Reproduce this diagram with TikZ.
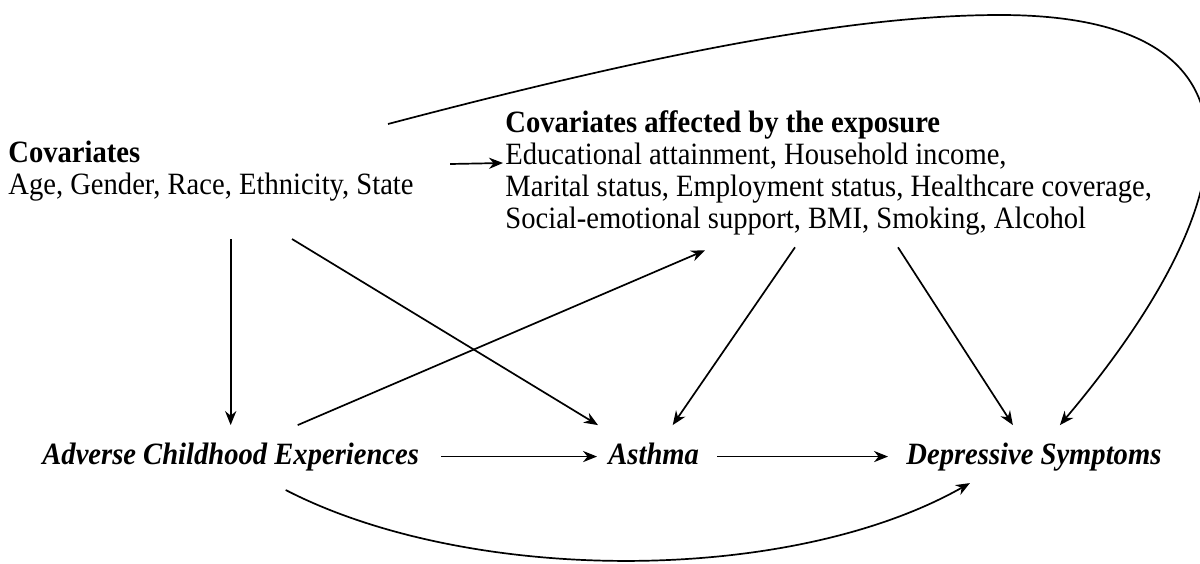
\documentclass[tikz,border=0pt]{standalone}
\usepackage{fontspec}
\setmainfont[FakeStretch=0.9226]{Liberation Serif}
\usetikzlibrary{calc,arrows.meta}

\begin{document}
\begin{tikzpicture}[x=0.5pt,y=-0.5pt,
  font=\fontsize{15.5}{16}\selectfont,
  every node/.style={inner sep=0pt},
  var/.style={font=\fontsize{15.5}{16}\selectfont\bfseries\itshape,anchor=base west},
  grp/.style={align=left,anchor=north west},
  link/.style={-{Stealth[length=7pt,width=5.6pt]},line width=0.85pt}]
\useasboundingbox (0,0) rectangle (1200,563);

\node[grp] (cov) at (8,141) {\textbf{Covariates}\\Age, Gender, Race, Ethnicity, State};
\node[grp] (covexp) at (505,110) {\textbf{Covariates affected by the exposure}\\
  Educational attainment, Household income,\\
  Marital status, Employment status, Healthcare coverage,\\
  Social-emotional support, BMI, Smoking, Alcohol};
\node[var] (ace) at (42,464) {Adverse Childhood Experiences};
\node[var] (asthma) at (608,464) {Asthma};
\node[var] (dep) at (906,464) {Depressive Symptoms};

% arrows out of the covariates
\path[link]
($(cov.north east)+(36,23)$) edge ($(covexp.north west)+(-2,53)$)
(ace.north |- cov.south) edge[shorten <=18.5pt,shorten >=8.5pt] (ace.north)
($(cov.south)+(81,37)$) edge ($(asthma.north west)+(-10,-17)$);
\draw[link] ($(cov.north east)+(-26,-17)$) .. controls (650,55) and (850,15) .. (1000,15)
  .. controls (1280,15) and (1250,200) .. ($(dep.north)+(26,-17)$);

% arrows out of the exposure
\path[link]
($(ace.north)+(67,-17)$) edge ($(covexp.south west)+(200,15)$)
(ace.east) edge[shorten <=11pt,shorten >=5.5pt] (ace.east -| asthma.west);
\draw[link] ($(ace.south)+(55,19)$) .. controls (470,585) and (790,585) .. ($(dep.south)+(-64,12)$);

% mediators and outcome
\path[link]
($(covexp.south west)+(290,12)$) edge ($(asthma.north)+(19,-17)$)
($(covexp.south west)+(393,12)$) edge ($(dep.north)+(-21,-17)$)
(ace.east -| asthma.east) edge[shorten <=9pt,shorten >=9pt] (ace.east -| dep.west);
\end{tikzpicture}
\end{document}
